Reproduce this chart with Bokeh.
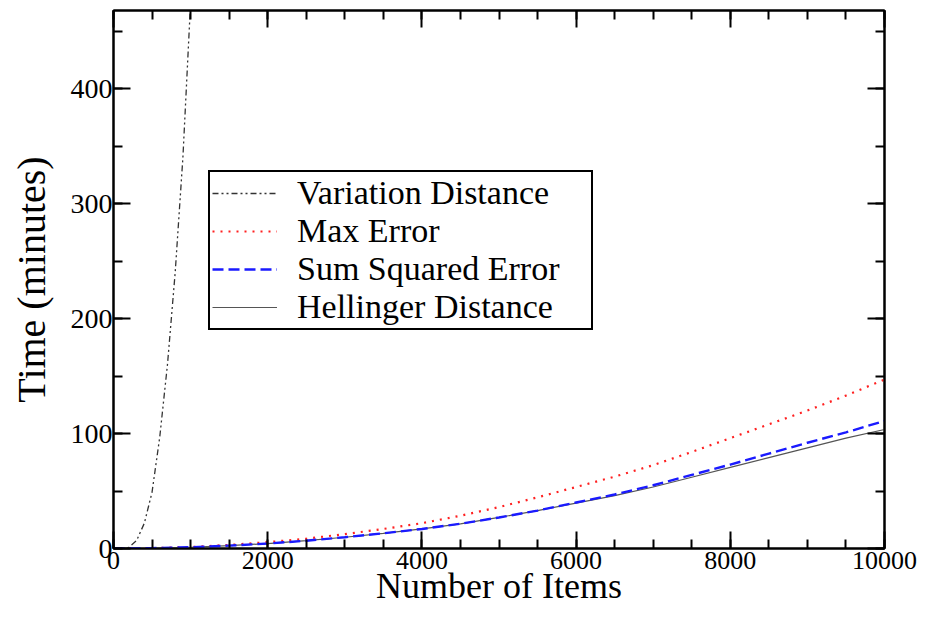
from bokeh.plotting import figure
from bokeh.models import (Range1d, SingleIntervalTicker, LinearAxis)
from bokeh.embed import file_html
from bokeh.resources import INLINE

# ---- data ----
vd_x = [0, 100, 200, 300, 400, 500, 600, 700, 800, 900, 1000]
vd_y = [0, 0, 1, 7, 22, 49, 97, 160, 240, 340, 475]

n_items = [0, 500, 1000, 1500, 2000, 2500, 3000, 3500, 4000, 4500, 5000,
           5500, 6000, 6500, 7000, 7500, 8000, 8500, 9000, 9500, 10000]
max_error = [0, 0.3, 1.3, 3.1, 5.5, 8.5, 12.5, 17, 22, 28.5, 36,
             44.5, 53.5, 62.5, 72.5, 84, 96, 108, 120, 133, 147]
sum_sq_error = [0, 0.3, 1.1, 2.5, 4.3, 6.8, 9.8, 13.2, 17, 21.5, 27,
                33, 40, 47, 55, 64, 73, 82.5, 92, 101, 111]
hellinger = [0, 0.3, 1.1, 2.5, 4.3, 6.8, 9.8, 13.2, 17, 21.5, 27,
             33, 39.5, 46, 53.5, 62, 70.5, 79, 87.5, 96, 103.5]

series_names = ["Variation Distance", "Max Error", "Sum Squared Error", "Hellinger Distance"]
x_label = "Number of Items"
y_label = "Time (minutes)"

FONT = "Liberation Serif"

p = figure(width=917, height=608, output_backend="svg", toolbar_location=None,
           x_range=Range1d(0, 10000), y_range=Range1d(0, 468),
           min_border_left=113, min_border_right=33, min_border_top=10,
           min_border_bottom=59)
p.background_fill_color = "white"
p.border_fill_color = "white"
p.outline_line_color = "black"
p.outline_line_width = 2
p.outline_line_alpha = 1
p.xgrid.visible = False
p.ygrid.visible = False

def style_axis(ax, labels=True):
    ax.axis_line_color = "black"
    ax.axis_line_width = 2
    ax.major_tick_line_color = "black"
    ax.major_tick_line_width = 2
    ax.minor_tick_line_color = "black"
    ax.minor_tick_line_width = 2
    ax.major_tick_in = 17
    ax.major_tick_out = 0
    ax.minor_tick_in = 9
    ax.minor_tick_out = 0
    if labels:
        ax.major_label_text_font = FONT
        ax.major_label_text_font_size = "28px"
        ax.major_label_text_color = "black"
    else:
        ax.major_label_text_font_size = "0px"
        ax.major_label_text_color = None
        ax.major_label_standoff = 0
        ax.axis_label_standoff = 0

p.xaxis.ticker = SingleIntervalTicker(interval=2000, num_minor_ticks=4)
p.yaxis.ticker = SingleIntervalTicker(interval=100, num_minor_ticks=2)
style_axis(p.xaxis[0])
style_axis(p.yaxis[0])
p.xaxis.major_label_text_font_size = "26px"
p.xaxis.major_label_standoff = 3
p.yaxis.major_label_standoff = 1

p.yaxis.axis_label = y_label
p.yaxis.axis_label_text_font = FONT
p.yaxis.axis_label_text_font_size = "40px"
p.yaxis.axis_label_text_font_style = "normal"
p.yaxis.axis_label_text_color = "black"
p.yaxis.axis_label_standoff = 14

p.xaxis.axis_label = x_label
p.xaxis.axis_label_text_font = FONT
p.xaxis.axis_label_text_font_size = "36px"
p.xaxis.axis_label_text_font_style = "normal"
p.xaxis.axis_label_text_color = "black"
p.xaxis.axis_label_standoff = -6

top_ax = LinearAxis(ticker=SingleIntervalTicker(interval=2000, num_minor_ticks=4))
style_axis(top_ax, labels=False)
p.add_layout(top_ax, "above")
right_ax = LinearAxis(ticker=SingleIntervalTicker(interval=100, num_minor_ticks=2))
style_axis(right_ax, labels=False)
p.add_layout(right_ax, "right")

p.line(vd_x, vd_y, line_color="#333333", line_width=1.3, line_dash="6 3 2 3 2 3",
       legend_label=series_names[0])
p.line(n_items, max_error, line_color="#ff2020", line_width=2.2, line_dash="2 6",
       legend_label=series_names[1])
p.line(n_items, hellinger, line_color="#555555", line_width=1.2,
       legend_label=series_names[3])
p.line(n_items, sum_sq_error, line_color="#1a1aff", line_width=2.4, line_dash="11 5",
       legend_label=series_names[2])

lg = p.legend[0]
order = {name: i for i, name in enumerate(series_names)}
lg.items = sorted(lg.items, key=lambda it: order[it.label.value])
lg.location = (95, 218)
lg.border_line_color = "black"
lg.border_line_width = 2
lg.border_line_alpha = 1
lg.background_fill_color = "white"
lg.background_fill_alpha = 1
lg.label_text_font = FONT
lg.label_text_font_size = "34px"
lg.label_text_color = "black"
lg.padding = 2
lg.spacing = 0
lg.margin = 0
lg.glyph_width = 65
lg.label_standoff = 20
lg.label_width = 292
lg.label_height = 30
lg.glyph_height = 30

open("out.html", "w").write(file_html(p, INLINE))
